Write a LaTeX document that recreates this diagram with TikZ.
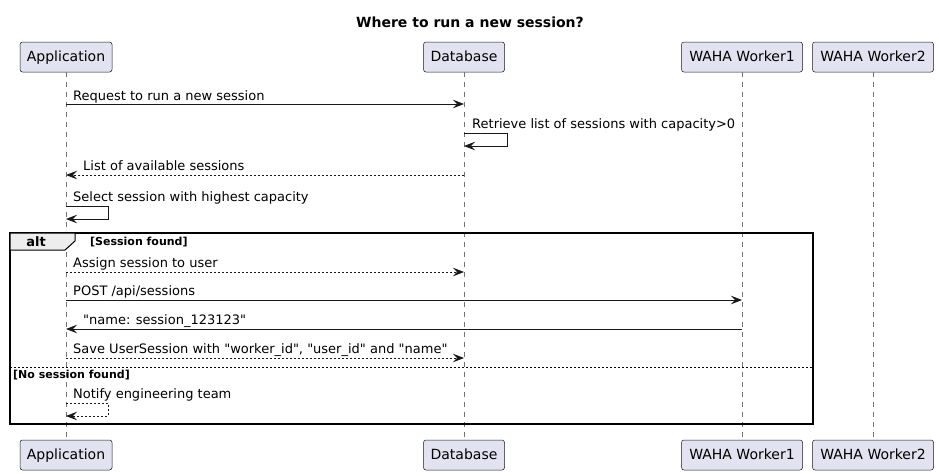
\documentclass[tikz,border=0pt]{standalone}
\usepackage{fontspec}
\setmainfont{DejaVu Sans}[Ligatures=TeXOff]
\usetikzlibrary{arrows.meta}
\definecolor{partfill}{HTML}{E2E2F0}
\definecolor{partline}{HTML}{181818}
\newcommand\sq{\char34\relax}
\begin{document}
\begin{tikzpicture}[x=1pt,y=-1pt,
 part/.style={draw=partline, fill=partfill, rounded corners=2.5pt, minimum height=30pt, inner sep=0pt, text depth=2pt, font=\fontsize{14}{16}\selectfont, line width=0.5pt},
 life/.style={draw=black!55, dash pattern=on 5pt off 5pt, line width=0.5pt},
 msg/.style={draw=partline, line width=0.9pt, -{Stealth[length=11pt,width=8.5pt,inset=4pt]}},
 rmsg/.style={msg, dash pattern=on 2pt off 2pt},
 lbl/.style={font=\fontsize{13}{15}\selectfont, anchor=base west, inner sep=0pt},
 guard/.style={font=\bfseries\fontsize{11}{13}\selectfont, anchor=base west, inner sep=0pt}]
\useasboundingbox (0,0) rectangle (939,475);
\node[font=\bfseries\fontsize{14}{16}\selectfont] (title) at (470,22) {Where to run a new session?};
% participants
\node[part, minimum width=92pt] (appT) at (66,57) {Application};
\node[part, minimum width=81pt] (dbT) at (464,57) {Database};
\node[part, minimum width=121pt] (w1T) at (742,57) {WAHA Worker1};
\node[part, minimum width=121pt] (w2T) at (873,57) {WAHA Worker2};
\node[part, minimum width=92pt] (appB) at (66,455) {Application};
\node[part, minimum width=81pt] (dbB) at (464,455) {Database};
\node[part, minimum width=121pt] (w1B) at (742,455) {WAHA Worker1};
\node[part, minimum width=121pt] (w2B) at (873,455) {WAHA Worker2};
\draw[life] (appT.south) -- (appB.north);
\draw[life] (dbT.south) -- (dbB.north);
\draw[life] (w1T.south) -- (w1B.north);
\draw[life] (w2T.south) -- (w2B.north);
% message 1
\coordinate (m1s) at (66,104); \coordinate (m1e) at (464,104);
\draw[msg] (m1s) -- (m1e);
\node[lbl] (l1) at (73,100) {Request to run a new session};
% message 2 self
\coordinate (m2s) at (464,133); \coordinate (m2e) at (464,146);
\draw[msg] (m2s) -- ++(43,0) |- (m2e);
\node[lbl] (l2) at (472,128) {Retrieve list of sessions with capacity>0};
% message 3
\coordinate (m3s) at (464,175); \coordinate (m3e) at (66,175);
\draw[rmsg] (m3s) -- (m3e);
\node[lbl] (l3) at (83,170) {List of available sessions};
% message 4 self
\coordinate (m4s) at (66,206); \coordinate (m4e) at (66,219);
\draw[msg] (m4s) -- ++(42,0) |- (m4e);
\node[lbl] (l4) at (73,201) {Select session with highest capacity};
% alt frame
\draw[line width=1.5pt] (10,233) rectangle (813,424);
\draw[line width=1pt, fill=black!7] (10,233) -- (75,233) -- (75,241) -- (65,250) -- (10,250) -- cycle;
\node[font=\bfseries\fontsize{13}{15}\selectfont, inner sep=0pt] (alt) at (36,242) {alt};
\node[guard] (g1) at (90,245) {[Session found]};
% message 5
\coordinate (m5s) at (66,272); \coordinate (m5e) at (464,272);
\draw[rmsg] (m5s) -- (m5e);
\node[lbl] (l5) at (73,267) {Assign session to user};
% message 6
\coordinate (m6s) at (66,300); \coordinate (m6e) at (742,300);
\draw[msg] (m6s) -- (m6e);
\node[lbl] (l6) at (73,295) {POST /api/sessions};
% message 7
\coordinate (m7s) at (742,329); \coordinate (m7e) at (66,329);
\draw[msg] (m7s) -- (m7e);
\node[lbl] (l7) at (83,324) {\sq name: session\_123123\sq};
% message 8
\coordinate (m8s) at (66,358); \coordinate (m8e) at (464,358);
\draw[rmsg] (m8s) -- (m8e);
\node[lbl] (l8) at (73,353) {Save UserSession with \sq worker\_id\sq, \sq user\_id\sq{} and \sq name\sq};
% separator
\draw[dash pattern=on 2pt off 2pt, line width=0.8pt] (10,367) -- (813,367);
\node[guard] (g2) at (13,378) {[No session found]};
% message 9 self
\coordinate (m9s) at (66,403); \coordinate (m9e) at (66,416);
\draw[rmsg] (m9s) -- ++(42,0) |- (m9e);
\node[lbl] (l9) at (73,398) {Notify engineering team};
\end{tikzpicture}
\end{document}
